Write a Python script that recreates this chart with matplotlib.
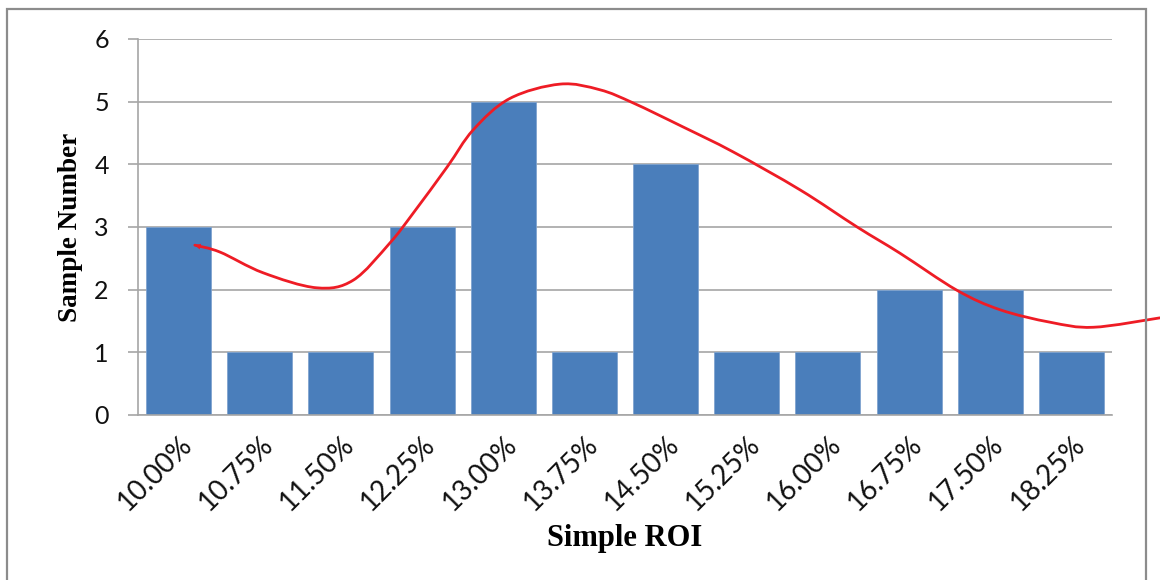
import numpy as np
import matplotlib
matplotlib.use("Agg")
import matplotlib.pyplot as plt
from matplotlib.path import Path
from matplotlib.patches import PathPatch, Rectangle

# Histogram of simple ROI values
roi_labels = ["10.00%", "10.75%", "11.50%", "12.25%", "13.00%", "13.75%",
              "14.50%", "15.25%", "16.00%", "16.75%", "17.50%", "18.25%"]
sample_counts = [3, 1, 1, 3, 5, 1, 4, 1, 1, 2, 2, 1]
y_ticks = [0, 1, 2, 3, 4, 5, 6]

# Hand-sketched trend curve (category index, sample number)
trend_x = [0.20, 0.51, 1.04, 1.70, 2.15, 2.60, 2.89, 3.31, 3.63, 4.08, 4.70,
           5.19, 5.60, 6.21, 6.83, 7.66, 8.36, 8.89, 9.59, 10.12,
           10.74, 11.27, 12.09]
trend_y = [2.71, 2.60, 2.27, 2.03, 2.15, 2.74, 3.22, 3.96, 4.55, 5.05, 5.28,
           5.19, 4.98, 4.60, 4.20, 3.59, 3.00, 2.58, 1.99, 1.68,
           1.48, 1.40, 1.55]

BAR_COLOR = "#4A7EBB"
GRID_COLOR = "#A6A6A6"
CURVE_COLOR = "#EE1C25"

fig = plt.figure(figsize=(11.6, 5.8), dpi=100)
ax = fig.add_axes([138 / 1160, 1 - 415 / 580, (1112 - 138) / 1160, (415 - 39) / 580])

x = np.arange(len(sample_counts))
ax.bar(x, sample_counts, width=0.8, color=BAR_COLOR, edgecolor="#7FA3D0",
       linewidth=0.6, zorder=2)

ax.set_xlim(-0.5, len(sample_counts) - 0.5)
ax.set_ylim(0, 6)
ax.set_yticks(y_ticks)
ax.yaxis.grid(True, color=GRID_COLOR, linewidth=1.2, zorder=0)
ax.set_axisbelow(True)

for side in ("top", "right"):
    ax.spines[side].set_visible(False)
ax.spines["left"].set_color(GRID_COLOR)
ax.spines["left"].set_linewidth(1.2)
ax.spines["bottom"].set_color(GRID_COLOR)
ax.spines["bottom"].set_linewidth(1.2)
ax.tick_params(axis="y", direction="out", length=7, width=1.2, color=GRID_COLOR,
               labelsize=18, pad=14)
ax.tick_params(axis="x", length=0, pad=12)

tick_font = ["Lato", "DejaVu Sans"]
ax.set_xticks(x)
ax.set_xticklabels(roi_labels, rotation=45, ha="right", va="top",
                   rotation_mode="anchor", fontsize=20, family=tick_font)
for lbl in ax.get_yticklabels():
    lbl.set_family(tick_font)
    lbl.set_color("#111111")
for lbl in ax.get_xticklabels():
    lbl.set_color("#111111")

ax.set_xlabel("Simple ROI", labelpad=6, family="Liberation Serif",
              fontweight="bold", fontsize=22)
ax.set_ylabel("Sample Number", labelpad=8, family="Liberation Serif",
              fontweight="bold", fontsize=19.5)

# Smooth curve through the sketch points (Catmull-Rom -> cubic Bezier)
pts = np.column_stack([trend_x, trend_y])
ext = np.vstack([pts[0], pts, pts[-1]])
verts = [tuple(pts[0])]
codes = [Path.MOVETO]
for i in range(1, len(ext) - 2):
    p0, p1, p2, p3 = ext[i - 1], ext[i], ext[i + 1], ext[i + 2]
    c1 = p1 + (p2 - p0) / 6.0
    c2 = p2 - (p3 - p1) / 6.0
    verts += [tuple(c1), tuple(c2), tuple(p2)]
    codes += [Path.CURVE4] * 3
curve = PathPatch(Path(verts, codes), facecolor="none", edgecolor=CURVE_COLOR,
                  linewidth=2.0, zorder=4, clip_on=False, capstyle="round")
ax.add_patch(curve)

# small arrowhead at the start of the curve
ax.annotate("", xy=(trend_x[0], trend_y[0]),
            xytext=(trend_x[0] + 0.12, trend_y[0] - 0.04),
            arrowprops=dict(arrowstyle="-|>", color=CURVE_COLOR, lw=0.1,
                            mutation_scale=10, shrinkA=0, shrinkB=0),
            zorder=5)

# outer frame around the chart area
frame = Rectangle((7 / 1160, -0.05), (1146 - 7) / 1160, 1.05 - 9 / 580,
                  transform=fig.transFigure, fill=False, edgecolor="#8C8C8C",
                  linewidth=1.6, zorder=0)
fig.patches.append(frame)

fig.savefig("out.png", dpi=100, facecolor="white")
